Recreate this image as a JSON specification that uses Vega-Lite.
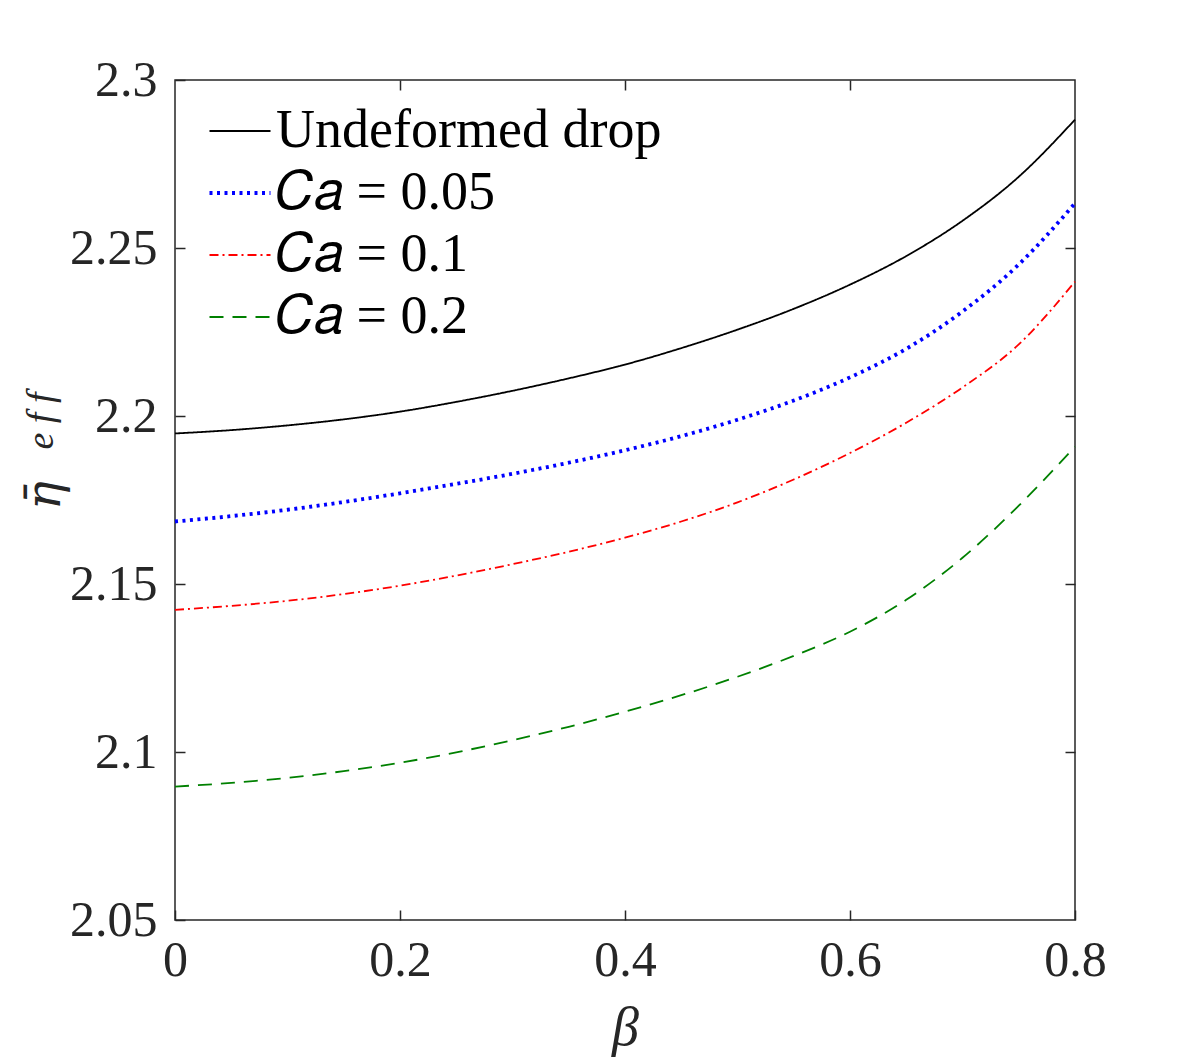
{
  "$schema": "https://vega.github.io/schema/vega-lite/v6.json",
  "width": 900,
  "height": 840,
  "autosize": "none",
  "padding": {"left": 175, "top": 80, "right": 113, "bottom": 143},
  "background": "white",
  "config": {
    "font": "Liberation Serif",
    "view": {"stroke": "#262626", "strokeWidth": 1.5},
    "axis": {"grid": false, "domain": false, "tickColor": "#262626", "tickWidth": 1.5, "labelColor": "#262626", "labelFont": "Liberation Serif", "titleFont": "Liberation Serif", "titleColor": "#262626", "labelFontSize": 50, "titleFontWeight": "normal", "labelFlush": false}
  },
  "layer": [
    {
      "data": {"values": [
        {"b":0,"v":2.1948,"s":"Undeformed drop"},{"b":0.05,"v":2.1958,"s":"Undeformed drop"},{"b":0.1,"v":2.1972,"s":"Undeformed drop"},{"b":0.15,"v":2.1990,"s":"Undeformed drop"},{"b":0.2,"v":2.2013,"s":"Undeformed drop"},{"b":0.25,"v":2.2042,"s":"Undeformed drop"},{"b":0.3,"v":2.2075,"s":"Undeformed drop"},{"b":0.35,"v":2.2112,"s":"Undeformed drop"},{"b":0.4,"v":2.2153,"s":"Undeformed drop"},{"b":0.45,"v":2.2202,"s":"Undeformed drop"},{"b":0.5,"v":2.2257,"s":"Undeformed drop"},{"b":0.55,"v":2.2319,"s":"Undeformed drop"},{"b":0.6,"v":2.2391,"s":"Undeformed drop"},{"b":0.65,"v":2.2476,"s":"Undeformed drop"},{"b":0.7,"v":2.2581,"s":"Undeformed drop"},{"b":0.75,"v":2.2712,"s":"Undeformed drop"},{"b":0.8,"v":2.2882,"s":"Undeformed drop"},
        {"b":0,"v":2.1686,"s":"𝐶𝑎 = 0.05"},{"b":0.05,"v":2.1702,"s":"𝐶𝑎 = 0.05"},{"b":0.1,"v":2.1721,"s":"𝐶𝑎 = 0.05"},{"b":0.15,"v":2.1744,"s":"𝐶𝑎 = 0.05"},{"b":0.2,"v":2.1770,"s":"𝐶𝑎 = 0.05"},{"b":0.25,"v":2.1798,"s":"𝐶𝑎 = 0.05"},{"b":0.3,"v":2.1828,"s":"𝐶𝑎 = 0.05"},{"b":0.35,"v":2.1861,"s":"𝐶𝑎 = 0.05"},{"b":0.4,"v":2.1898,"s":"𝐶𝑎 = 0.05"},{"b":0.45,"v":2.1940,"s":"𝐶𝑎 = 0.05"},{"b":0.5,"v":2.1989,"s":"𝐶𝑎 = 0.05"},{"b":0.55,"v":2.2046,"s":"𝐶𝑎 = 0.05"},{"b":0.6,"v":2.2115,"s":"𝐶𝑎 = 0.05"},{"b":0.65,"v":2.2200,"s":"𝐶𝑎 = 0.05"},{"b":0.7,"v":2.2311,"s":"𝐶𝑎 = 0.05"},{"b":0.75,"v":2.2451,"s":"𝐶𝑎 = 0.05"},{"b":0.8,"v":2.2633,"s":"𝐶𝑎 = 0.05"},
        {"b":0,"v":2.1423,"s":"𝐶𝑎 = 0.1"},{"b":0.05,"v":2.1435,"s":"𝐶𝑎 = 0.1"},{"b":0.1,"v":2.1450,"s":"𝐶𝑎 = 0.1"},{"b":0.15,"v":2.1470,"s":"𝐶𝑎 = 0.1"},{"b":0.2,"v":2.1495,"s":"𝐶𝑎 = 0.1"},{"b":0.25,"v":2.1525,"s":"𝐶𝑎 = 0.1"},{"b":0.3,"v":2.1559,"s":"𝐶𝑎 = 0.1"},{"b":0.35,"v":2.1596,"s":"𝐶𝑎 = 0.1"},{"b":0.4,"v":2.1638,"s":"𝐶𝑎 = 0.1"},{"b":0.45,"v":2.1686,"s":"𝐶𝑎 = 0.1"},{"b":0.5,"v":2.1743,"s":"𝐶𝑎 = 0.1"},{"b":0.55,"v":2.1811,"s":"𝐶𝑎 = 0.1"},{"b":0.6,"v":2.1890,"s":"𝐶𝑎 = 0.1"},{"b":0.65,"v":2.1980,"s":"𝐶𝑎 = 0.1"},{"b":0.7,"v":2.2085,"s":"𝐶𝑎 = 0.1"},{"b":0.75,"v":2.2213,"s":"𝐶𝑎 = 0.1"},{"b":0.8,"v":2.2400,"s":"𝐶𝑎 = 0.1"},
        {"b":0,"v":2.0897,"s":"𝐶𝑎 = 0.2"},{"b":0.05,"v":2.0908,"s":"𝐶𝑎 = 0.2"},{"b":0.1,"v":2.0923,"s":"𝐶𝑎 = 0.2"},{"b":0.15,"v":2.0943,"s":"𝐶𝑎 = 0.2"},{"b":0.2,"v":2.0968,"s":"𝐶𝑎 = 0.2"},{"b":0.25,"v":2.0999,"s":"𝐶𝑎 = 0.2"},{"b":0.3,"v":2.1035,"s":"𝐶𝑎 = 0.2"},{"b":0.35,"v":2.1075,"s":"𝐶𝑎 = 0.2"},{"b":0.4,"v":2.1120,"s":"𝐶𝑎 = 0.2"},{"b":0.45,"v":2.1169,"s":"𝐶𝑎 = 0.2"},{"b":0.5,"v":2.1224,"s":"𝐶𝑎 = 0.2"},{"b":0.55,"v":2.1286,"s":"𝐶𝑎 = 0.2"},{"b":0.6,"v":2.1358,"s":"𝐶𝑎 = 0.2"},{"b":0.65,"v":2.1453,"s":"𝐶𝑎 = 0.2"},{"b":0.7,"v":2.1578,"s":"𝐶𝑎 = 0.2"},{"b":0.75,"v":2.1733,"s":"𝐶𝑎 = 0.2"},{"b":0.8,"v":2.1909,"s":"𝐶𝑎 = 0.2"}
      ]},
      "layer": [
        {
          "mark": {"type": "line", "interpolate": "monotone"},
          "encoding": {
            "x": {"field": "b", "type": "quantitative", "scale": {"domain": [0, 0.8], "nice": false, "zero": false},
                  "axis": {"orient": "bottom", "values": [0, 0.2, 0.4, 0.6, 0.8], "format": ".1~f", "tickSize": -10, "labelPadding": 25, "title": "β", "titleFontStyle": "italic", "titleFontSize": 54, "titlePadding": 16}},
            "y": {"field": "v", "type": "quantitative", "scale": {"domain": [2.05, 2.3], "nice": false, "zero": false},
                  "axis": {"orient": "left", "values": [2.05, 2.1, 2.15, 2.2, 2.25, 2.3], "format": ".2~f", "tickSize": -10, "labelPadding": 28, "title": "η̄", "titleFont": "DejaVu Serif", "titleFontStyle": "italic", "titleFontSize": 48, "titleAngle": 270, "titleAlign": "center", "titleBaseline": "middle", "titleX": -130, "titleY": 415}},
            "color": {"field": "s", "type": "nominal",
                      "scale": {"domain": ["Undeformed drop", "𝐶𝑎 = 0.05", "𝐶𝑎 = 0.1", "𝐶𝑎 = 0.2"], "range": ["#000000", "#0000ff", "#ff0000", "#008000"]},
                      "legend": {"title": null, "orient": "none", "legendX": 38, "legendY": 24, "symbolType": "stroke", "symbolSize": 3721, "labelFontSize": 54, "labelFont": "Liberation Serif", "labelColor": "#000000", "labelOffset": 9, "rowPadding": 8, "padding": 0, "labelLimit": 600,
                                 "encode": {"symbols": {"update": {"strokeWidth": {"signal": "datum.value === '𝐶𝑎 = 0.05' ? 3.8 : 1.8"}}}}}},
            "strokeDash": {"field": "s", "type": "nominal",
                           "scale": {"domain": ["Undeformed drop", "𝐶𝑎 = 0.05", "𝐶𝑎 = 0.1", "𝐶𝑎 = 0.2"], "range": [[1, 0], [3, 4.5], [9, 4, 2, 4], [14, 9]]}},
            "strokeWidth": {"condition": {"test": "datum.s === '𝐶𝑎 = 0.05'", "value": 3.8}, "value": 1.8}
          }
        },
        {
          "mark": {"type": "line", "opacity": 0},
          "encoding": {
            "x": {"field": "b", "type": "quantitative", "axis": {"orient": "top", "values": [0.2, 0.4, 0.6], "labels": false, "tickSize": -10, "title": null}},
            "y": {"field": "v", "type": "quantitative", "axis": {"orient": "right", "values": [2.1, 2.15, 2.2, 2.25], "labels": false, "tickSize": -10, "title": null}},
            "detail": {"field": "s"}
          }
        }
      ],
      "resolve": {"scale": {"x": "shared", "y": "shared"}, "axis": {"x": "independent", "y": "independent"}}
    },
    {
      "data": {"values": [{"label": "e f f"}]},
      "mark": {"type": "text", "angle": 270, "font": "Liberation Serif", "fontStyle": "italic", "fontSize": 38, "align": "center", "baseline": "middle", "color": "#262626"},
      "encoding": {
        "x": {"datum": -0.118, "type": "quantitative", "axis": null},
        "y": {"datum": 2.1985, "type": "quantitative", "axis": null},
        "text": {"field": "label"}
      }
    }
  ]
}
